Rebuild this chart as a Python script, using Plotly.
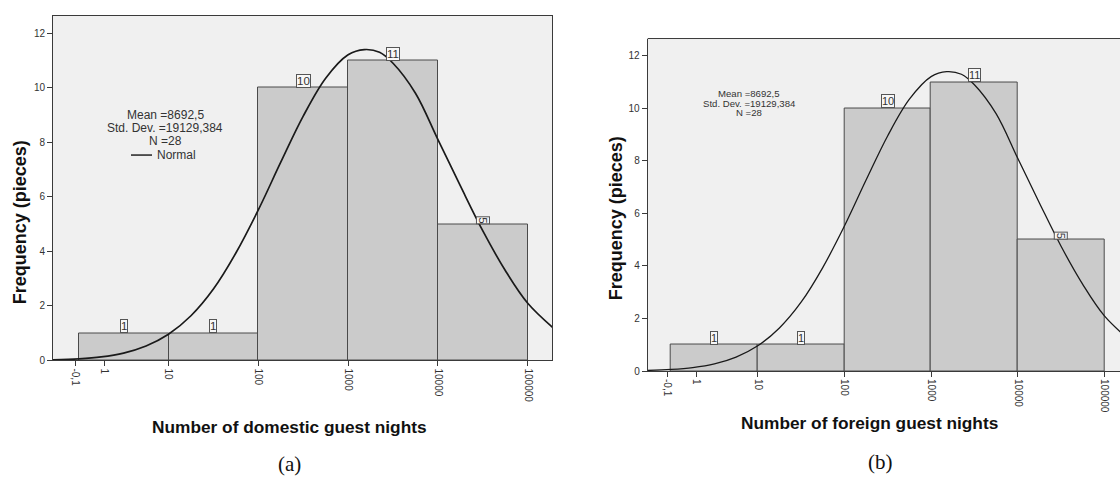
import plotly.graph_objects as go

W, H = 1120, 484

# ---- data -------------------------------------------------------------
bin_centers = [0.5, 1.5, 2.5, 3.5, 4.5]          # log10 decades: 1-10, 10-100, ...
counts = [1, 1, 10, 11, 5]
tick_pos = [-0.04, 0.29, 1, 2, 3, 4, 5]
tick_text = ["-0,1", "1", "10", "100", "1000", "10000", "100000"]
y_ticks = [0, 2, 4, 6, 8, 10, 12]
# normal curve (x in decades, y frequency)
curve_x = [-0.3, 0.0, 0.25, 0.5, 0.75, 1.0, 1.25, 1.5, 1.75, 2.0, 2.25, 2.5,
           2.75, 3.0, 3.18, 3.35, 3.5, 3.75, 4.0, 4.25, 4.5, 4.75, 5.0, 5.3]
curve_y = [0.02, 0.06, 0.13, 0.27, 0.53, 0.96, 1.64, 2.62, 3.94, 5.52, 7.27, 8.96,
           10.35, 11.21, 11.4, 11.3, 10.9, 9.8, 8.1, 6.4, 4.75, 3.3, 2.1, 1.15]
stats_lines = ["Mean =8692,5", "Std. Dev. =19129,384", "N =28"]
legend_label = "Normal"
x_titles = ["Number of domestic guest nights", "Number of foreign guest nights"]
y_title = "Frequency (pieces)"
captions = ["(a)", "(b)"]


def px(x):
    return x / W


def py(y):
    return 1 - y / H


FONT = "Liberation Sans, Arial, sans-serif"
LINE = "#3a3a3a"

fig = go.Figure()
for i, (xa, ya) in enumerate([("x", "y"), ("x2", "y2")]):
    fig.add_trace(go.Bar(
        x=bin_centers, y=counts, width=1,
        marker=dict(color="#cbcbcb", line=dict(color="#4a4a4a", width=1)),
        xaxis=xa, yaxis=ya, showlegend=False, hoverinfo="skip"))
    fig.add_trace(go.Scatter(
        x=curve_x, y=curve_y, mode="lines",
        line=dict(color="#1a1a1a", width=1.7 if i == 0 else 1.3, shape="spline"),
        xaxis=xa, yaxis=ya, showlegend=False, hoverinfo="skip"))

common = dict(showgrid=False, zeroline=False, showline=True, linecolor=LINE,
              linewidth=1, ticks="outside", ticklen=5, tickcolor=LINE,
              tickfont=dict(family=FONT, size=10, color="#333"))

fig.update_layout(
    width=W, height=H,
    margin=dict(l=0, r=0, t=0, b=0),
    paper_bgcolor="white", plot_bgcolor="#f0f0f0",
    bargap=0,
    xaxis=dict(domain=[px(53), px(552)], range=[-0.286, 5.27], anchor="y",
               tickvals=tick_pos, ticktext=tick_text, tickangle=90, mirror=True,
               **common),
    yaxis=dict(domain=[py(365), py(15.7)], range=[0, 12.65], anchor="x",
               tickvals=y_ticks, mirror=True, **common),
    xaxis2=dict(domain=[px(647.7), 1.0], range=[-0.27, 5.18], anchor="y2",
                tickvals=tick_pos, ticktext=tick_text, tickangle=90, **common),
    yaxis2=dict(domain=[py(375.7), py(39)], range=[0, 12.66], anchor="x2",
                tickvals=y_ticks, **common),
)

shapes = [
    dict(type="line", xref="x2 domain", yref="y2 domain", x0=0, x1=1, y0=1, y1=1,
         line=dict(color=LINE, width=1)),
    dict(type="line", xref="paper", yref="paper", x0=px(131), x1=px(152),
         y0=py(157), y1=py(157), line=dict(color="#222", width=1.5)),
]

ann = []


def note(x, y, text, size, color="#333", family=FONT, xanchor="center",
         angle=0, **kw):
    d = dict(xref="paper", yref="paper", x=x, y=y, text=text, showarrow=False,
             xanchor=xanchor, yanchor="middle", textangle=angle,
             font=dict(family=family, size=size, color=color))
    d.update(kw)
    ann.append(d)


# bar value labels
for i, (xa, ya) in enumerate([("x", "y"), ("x2", "y2")]):
    for c, v in zip(bin_centers, counts):
        ann.append(dict(xref=xa, yref=ya, x=c, y=v, xanchor="center", yanchor="bottom",
                        text=str(v), showarrow=False,
                        textangle=90 if v == 5 else 0,
                        font=dict(family=FONT, size=11.5 if i == 0 else 11, color="#333"),
                        bgcolor="#f7f7f7", bordercolor="#555", borderwidth=1,
                        borderpad=0))

# stats text
for t, yy in zip(stats_lines, [116, 130, 143]):
    note(px(165), py(yy), t, 12)
note(px(155), py(157), legend_label, 12, xanchor="left")
for t, yy in zip(stats_lines, [95, 104.5, 114]):
    note(px(749), py(yy), t, 9.6)

# axis titles
for xc, yc in [(20, 225), (616, 221)]:
    note(px(xc), py(yc), "<b>" + y_title + "</b>", 18, color="#111", angle=-90)
for t, (xc, yc) in zip(x_titles, [(289, 432), (869, 428)]):
    note(px(xc), py(yc), "<b>" + t + "</b>", 17.3, color="#111")
for t, (xc, yc) in zip(captions, [(289, 470), (880, 468)]):
    note(px(xc), py(yc), t, 21, color="#111",
         family="Liberation Serif, Times New Roman, serif")

fig.update_layout(shapes=shapes, annotations=ann)
fig.write_html("out.html")
